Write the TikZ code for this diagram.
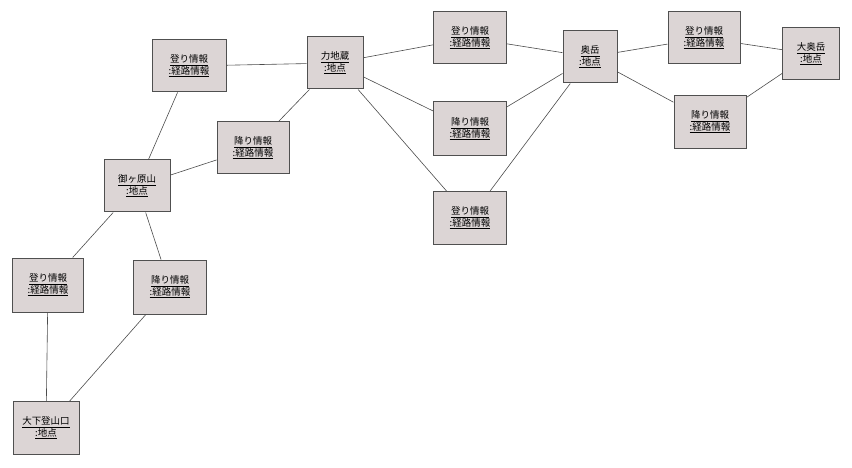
\documentclass[tikz,border=0pt]{standalone}
\usepackage{fontspec}
\newfontfamily\cjk{Noto Sans CJK JP}
\definecolor{boxfill}{HTML}{DCD5D5}
\definecolor{boxline}{HTML}{505050}
\begin{document}
\begin{tikzpicture}[x=1pt,y=-1pt,
  obj/.style={draw=boxline,line width=1pt,fill=boxfill,inner sep=0pt,align=center,font=\cjk\fontsize{9.5}{10.5}\selectfont},
  link/.style={draw=black!70,line width=0.6pt}]
\useasboundingbox (0,0) rectangle (852,468);
\newcommand\objbox[5]{\node[obj,minimum width=#3,minimum height=#4] (#1) at #2 {#5};}
\objbox{na}{(189,66)}{74}{52}{\underline{登り情報}\\\underline{:経路情報}}
\objbox{rk}{(335,63)}{56}{52}{\underline{力地蔵}\\\underline{:地点}}
\objbox{ka}{(253,148)}{72}{52}{\underline{降り情報}\\\underline{:経路情報}}
\objbox{mk}{(137,186)}{66}{52}{\underline{御ヶ原山}\\\underline{:地点}}
\objbox{nb}{(48,285)}{71}{54}{\underline{登り情報}\\\underline{:経路情報}}
\objbox{kb}{(170,287)}{73}{54}{\underline{降り情報}\\\underline{:経路情報}}
\objbox{os}{(46,428)}{66}{53}{\underline{大下登山口}\\\underline{:地点}}
\objbox{nc}{(470,38)}{73}{52}{\underline{登り情報}\\\underline{:経路情報}}
\objbox{kc}{(470,129)}{73}{54}{\underline{降り情報}\\\underline{:経路情報}}
\objbox{nd}{(470,218)}{73}{53}{\underline{登り情報}\\\underline{:経路情報}}
\objbox{ok}{(590,57)}{54}{52}{\underline{奥岳}\\\underline{:地点}}
\objbox{ne}{(704,38)}{72}{52}{\underline{登り情報}\\\underline{:経路情報}}
\objbox{ke}{(710,122)}{72}{53}{\underline{降り情報}\\\underline{:経路情報}}
\objbox{do}{(811,54)}{57}{52}{\underline{大奥岳}\\\underline{:地点}}
\begin{scope}[on background layer/.style={}]
\end{scope}
\draw[link] (na) -- (rk);
\draw[link] (na) -- (mk);
\draw[link] (ka) -- (rk);
\draw[link] (ka) -- (mk);
\draw[link] (mk) -- (nb);
\draw[link] (mk) -- (kb);
\draw[link] (nb) -- (os);
\draw[link] (kb) -- (os);
\draw[link] (rk) -- (nc);
\draw[link] (rk) -- (kc);
\draw[link] (rk) -- (nd);
\draw[link] (nc) -- (ok);
\draw[link] (kc) -- (ok);
\draw[link] (nd) -- (ok);
\draw[link] (ok) -- (ne);
\draw[link] (ok) -- (ke);
\draw[link] (ne) -- (do);
\draw[link] (ke) -- (do);
\end{tikzpicture}
\end{document}
